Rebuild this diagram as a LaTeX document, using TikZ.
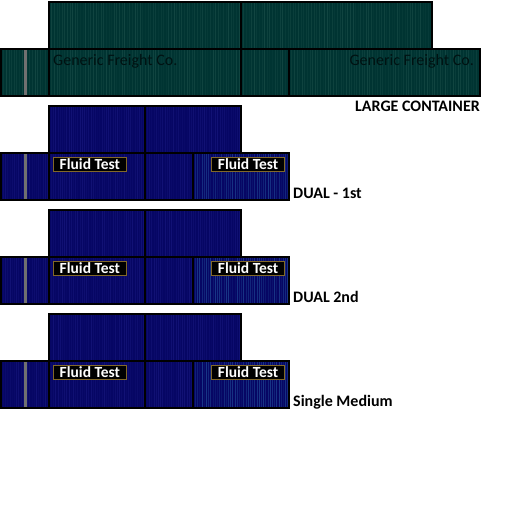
\documentclass[tikz,border=0pt]{standalone}
\usepackage{fontspec}
\setmainfont{Carlito}
\usetikzlibrary{positioning}
\definecolor{freight}{RGB}{0,52,50}
\definecolor{freightline}{RGB}{40,92,85}
\definecolor{brandink}{RGB}{0,18,18}
\definecolor{navy}{RGB}{6,6,100}
\definecolor{navyline}{RGB}{30,30,135}
\definecolor{testline}{RGB}{40,95,165}
\definecolor{tagedge}{RGB}{130,104,40}
\definecolor{railgray}{RGB}{112,112,112}
% vertical stripes inside a box: colour, spacing, strength
\newcommand\stripes[3]{%
  \foreach \i in {0,...,120}{%
    \pgfmathsetmacro\op{0.1+#3*rnd}%
    \draw[#1, opacity=\op, line width=0.5pt]
      ([xshift=\i*#2pt]path picture bounding box.south west) --
      ([xshift=\i*#2pt]path picture bounding box.north west);}}
\begin{document}
\begin{tikzpicture}[x=1pt,y=-1pt,
  box/.style={draw=black, line width=1.5pt, inner sep=0pt, outer sep=0pt},
  size/.style 2 args={minimum width=#1pt, minimum height=#2pt},
  freightbox/.style={box, fill=freight, path picture={\stripes{freightline}{2.6}{0.35}}},
  navybox/.style={box, fill=navy, path picture={\stripes{navyline}{2.2}{0.4}}},
  testbox/.style={box, fill=navy, path picture={\stripes{testline}{2.2}{0.45}}},
  tag/.style={fill=black, draw=tagedge, line width=0.8pt, text=white, inner sep=0pt,
    size={73}{14}, font=\bfseries\fontsize{15.5}{16}\selectfont},
  caption/.style={inner sep=0pt, font=\bfseries\fontsize{16}{18}\selectfont},
  brand/.style={inner sep=0pt, text=brandink, font=\fontsize{16}{18}\selectfont},
  rail/.style={railgray, line width=3pt, shorten <=0.75pt, shorten >=0.75pt}]
  \pgfmathsetseed{3}
  \useasboundingbox (0,0) rectangle (512,512);
%%
  % Large container
  \node[freightbox, size={48}{47}, anchor=north west] (lcBot1) at (1,49) {};
  \node[freightbox, size={192}{47}, right=0pt of lcBot1] (lcBot2) {};
  \node[freightbox, size={48}{47}, right=0pt of lcBot2] (lcBot3) {};
  \node[freightbox, size={191}{47}, right=0pt of lcBot3] (lcBot4) {};
  \node[freightbox, size={192}{47}, above=0pt of lcBot2] (lcTop1) {};
  \node[freightbox, size={191}{47}, right=0pt of lcTop1] (lcTop2) {};
  \draw[rail] ([xshift=24pt]lcBot1.north west) -- ([xshift=24pt]lcBot1.south west);
  \node[brand, anchor=base west] (lcBrandL) at ([shift={(4pt,-16pt)}]lcBot2.north west) {Generic Freight Co.};
  \node[brand, anchor=base east] (lcBrandR) at ([shift={(-6pt,-16pt)}]lcBot4.north east) {Generic Freight Co.};
  \node[caption, anchor=north east] (lcCap) at ([yshift=-5pt]lcBot4.south east) {LARGE CONTAINER};
  % Medium containers
  \foreach \n/\yo/\lab in {dual1/104/DUAL - 1st, dual2/208/DUAL 2nd, single/312/Single Medium}{
    \node[navybox, size={48}{47}, anchor=north west] (\n-b1) at (1,49+\yo) {};
    \node[navybox, size={96}{47}, right=0pt of \n-b1] (\n-b2) {};
    \node[navybox, size={48}{47}, right=0pt of \n-b2] (\n-b3) {};
    \node[testbox, size={96}{47}, right=0pt of \n-b3] (\n-b4) {};
    \node[navybox, size={96}{47}, above=0pt of \n-b2] (\n-t1) {};
    \node[navybox, size={96}{47}, right=0pt of \n-t1] (\n-t2) {};
    \draw[rail] ([xshift=24pt]\n-b1.north west) -- ([xshift=24pt]\n-b1.south west);
    \node[tag, anchor=north west] (\n-tagL) at ([shift={(4pt,-4pt)}]\n-b2.north west) {Fluid Test};
    \node[tag, anchor=north east] (\n-tagR) at ([shift={(-4pt,-4pt)}]\n-b4.north east) {Fluid Test};
    \node[caption, anchor=base west] (\n-cap) at ([shift={(4pt,2pt)}]\n-b4.south east) {\lab};
  }
%
\end{tikzpicture}
\end{document}
